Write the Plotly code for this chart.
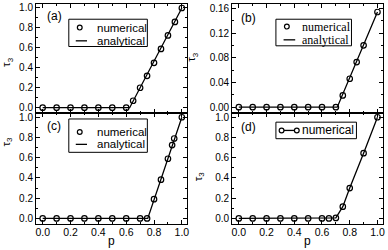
import plotly.graph_objects as go

# ---------------- data ----------------
p_a_num = [0.0, 0.1, 0.2, 0.3, 0.4, 0.5, 0.6, 0.65, 0.7, 0.75, 0.8, 0.85, 0.9, 0.95, 1.0]
tau_a_num = [0.0, 0.0, 0.0, 0.0, 0.0, 0.0, 0.0, 0.07, 0.20, 0.32, 0.45, 0.59, 0.725, 0.86, 1.0]
p_a_ana = [0.0, 0.625, 1.0]
tau_a_ana = [0.0, 0.0, 1.0]

p_b_num = [0.0, 0.1, 0.2, 0.3, 0.4, 0.5, 0.6, 0.7, 0.75, 0.8, 0.85, 0.9, 1.0]
tau_b_num = [0.0, 0.0, 0.0, 0.0, 0.0, 0.0, 0.0, 0.0, 0.019, 0.046, 0.073, 0.100, 0.154]
p_b_ana = [0.0, 0.71, 1.0]
tau_b_ana = [0.0, 0.0, 0.154]

p_c_num = [0.0, 0.1, 0.2, 0.3, 0.4, 0.5, 0.6, 0.7, 0.75, 0.8, 0.85, 0.9, 0.93, 0.945, 1.0]
tau_c_num = [0.0, 0.0, 0.0, 0.0, 0.0, 0.0, 0.0, 0.0, 0.0, 0.19, 0.383, 0.59, 0.725, 0.79, 1.0]
p_c_ana = [0.0, 0.755, 1.0]
tau_c_ana = [0.0, 0.0, 1.0]

p_d_num = [0.0, 0.1, 0.2, 0.3, 0.4, 0.5, 0.6, 0.65, 0.7, 0.75, 0.8, 0.9, 1.0]
tau_d_num = [0.0, 0.0, 0.0, 0.0, 0.0, 0.0, 0.0, 0.0, 0.005, 0.116, 0.30, 0.645, 1.0]

panel_labels = ["(a)", "(b)", "(c)", "(d)"]
legend_num = "numerical"
legend_ana = "analytical"
x_title = "p"
y_title = "τ<sub>3</sub>"

# ---------------- layout geometry ----------------
W, H = 388, 250
ML, MR, MT, MB = 36, 3, 3, 26
PW = W - ML - MR
PH = H - MT - MB
BOTTOM = H - MB


def fx(px):
    return (px - ML) / PW


def fy(py):
    return (BOTTOM - py) / PH


SANS = "Arial, Liberation Sans, sans-serif"
SERIF = "Times New Roman, Liberation Serif, serif"
BLACK = "black"

marker = dict(symbol="circle-open", size=5.5, color=BLACK, line=dict(width=1.2, color=BLACK))
line = dict(color=BLACK, width=1.3)

fig = go.Figure()
# (a)
fig.add_trace(go.Scatter(x=p_a_ana, y=tau_a_ana, mode="lines", line=line, name=legend_ana,
                         xaxis="x", yaxis="y", showlegend=False))
fig.add_trace(go.Scatter(x=p_a_num, y=tau_a_num, mode="markers", marker=marker, name=legend_num,
                         xaxis="x", yaxis="y", showlegend=False))
# (b)
fig.add_trace(go.Scatter(x=p_b_ana, y=tau_b_ana, mode="lines", line=line, name=legend_ana,
                         xaxis="x2", yaxis="y2", showlegend=False))
fig.add_trace(go.Scatter(x=p_b_num, y=tau_b_num, mode="markers", marker=marker, name=legend_num,
                         xaxis="x2", yaxis="y2", showlegend=False))
# (c)
fig.add_trace(go.Scatter(x=p_c_ana, y=tau_c_ana, mode="lines", line=line, name=legend_ana,
                         xaxis="x3", yaxis="y3", showlegend=False))
fig.add_trace(go.Scatter(x=p_c_num, y=tau_c_num, mode="markers", marker=marker, name=legend_num,
                         xaxis="x3", yaxis="y3", showlegend=False))
# (d)
fig.add_trace(go.Scatter(x=p_d_num, y=tau_d_num, mode="lines+markers", marker=marker, line=line,
                         name=legend_num, xaxis="x4", yaxis="y4", showlegend=False))

left_dom = [0, fx(188.3)]
right_dom = [fx(233.3), 1]
split = fy(112.7)
top_dom = [split, 1]
bot_dom = [0, split]

XR = [-0.048, 1.04]


def xax(domain, anchor, labels):
    return dict(domain=domain, anchor=anchor, range=XR, showline=True, linecolor=BLACK, linewidth=1,
                mirror="allticks", ticks="inside", ticklen=4, tickwidth=1, tickcolor=BLACK,
                dtick=0.2, tick0=0, tickformat=".1f", showticklabels=labels, showgrid=False,
                zeroline=False, tickfont=dict(family=SANS, size=10.5, color=BLACK),
                ticklabelstandoff=-2,
                minor=dict(ticks="inside", ticklen=2, dtick=0.1, tick0=0, tickcolor=BLACK, showgrid=False))


def yax(domain, anchor, rng, dtick, mdtick, fmt):
    return dict(domain=domain, anchor=anchor, range=rng, showline=True, linecolor=BLACK, linewidth=1,
                mirror="allticks", ticks="inside", ticklen=4, tickwidth=1, tickcolor=BLACK,
                dtick=dtick, tick0=0, tickformat=fmt, showgrid=False, zeroline=False,
                tickfont=dict(family=SANS, size=10, color=BLACK),
                minor=dict(ticks="inside", ticklen=2, dtick=mdtick, tick0=0, tickcolor=BLACK, showgrid=False))


YR = [-0.055, 1.04]
fig.update_layout(
    width=W, height=H,
    margin=dict(l=ML, r=MR, t=MT, b=MB, pad=0),
    paper_bgcolor="white", plot_bgcolor="white",
    showlegend=False,
    xaxis=xax(left_dom, "y", False),
    yaxis=yax(top_dom, "x", YR, 0.2, 0.1, ".1f"),
    xaxis2=xax(right_dom, "y2", False),
    yaxis2=yax(top_dom, "x2", [-0.0097, 0.1669], 0.04, 0.02, ".2f"),
    xaxis3=xax(left_dom, "y3", True),
    yaxis3=yax(bot_dom, "x3", YR, 0.2, 0.1, ".1f"),
    xaxis4=xax(right_dom, "y4", True),
    yaxis4=yax(bot_dom, "x4", YR, 0.2, 0.1, ".1f"),
)

annotations = []
shapes = []


def text(px, py, s, size, family=SANS, anchor="left", angle=0):
    annotations.append(dict(x=fx(px), y=fy(py), xref="paper", yref="paper", text=s, showarrow=False,
                            xanchor=anchor, yanchor="middle", textangle=angle,
                            font=dict(family=family, size=size, color=BLACK)))


def rect(x0, y0, x1, y1):
    shapes.append(dict(type="rect", xref="paper", yref="paper", x0=fx(x0), x1=fx(x1), y0=fy(y1), y1=fy(y0),
                       line=dict(color=BLACK, width=1), fillcolor="white", layer="above"))


def hline(x0, x1, y):
    shapes.append(dict(type="line", xref="paper", yref="paper", x0=fx(x0), x1=fx(x1), y0=fy(y), y1=fy(y),
                       line=dict(color=BLACK, width=1.3), layer="above"))


def circ(cx, cy, r=2.4):
    shapes.append(dict(type="circle", xref="paper", yref="paper", x0=fx(cx - r), x1=fx(cx + r),
                       y0=fy(cy + r), y1=fy(cy - r), line=dict(color=BLACK, width=1.2),
                       fillcolor="white", layer="above"))


# panel labels
text(45, 15.3, panel_labels[0], 12)
text(240, 16.7, panel_labels[1], 12)
text(45, 126, panel_labels[2], 12)
text(240, 126.7, panel_labels[3], 12)

# legend (a)
rect(69, 18.3, 148, 45.7)
circ(80, 26.7)
hline(76, 87.3, 40)
text(95, 26.7, legend_num, 11.5)
text(95, 40, legend_ana, 11.5)

# legend (b) - serif
rect(277.3, 18.3, 353.3, 45)
circ(288.3, 25.7)
hline(285, 296.7, 39)
text(301.5, 25.7, legend_num, 12, SERIF)
text(301.5, 39, legend_ana, 12, SERIF)

# legend (c)
rect(69, 118.5, 148, 152)
circ(80, 131.5)
hline(76, 87.3, 144)
text(95, 131.5, legend_num, 11.5)
text(95, 144, legend_ana, 11.5)

# legend (d)
rect(277.3, 121.7, 358.3, 138.3)
hline(283, 298.3, 130)
circ(283, 130)
circ(298.3, 130)
text(302, 130, legend_num, 12)

# axis titles
text(7, 61, y_title, 11.5, anchor="center", angle=-90)
text(193, 56, y_title, 11.5, anchor="center", angle=-90)
text(7, 141, y_title, 11.5, anchor="center", angle=-90)
text(200, 176, y_title, 11.5, anchor="center", angle=-90)
text(112, 241.5, x_title, 12, anchor="center")
text(309, 241.5, x_title, 12, anchor="center")

fig.update_layout(annotations=annotations, shapes=shapes)
fig.write_html("out.html", config={"displayModeBar": False},
               post_script="document.body.style.margin='0';document.body.style.padding='0';")
